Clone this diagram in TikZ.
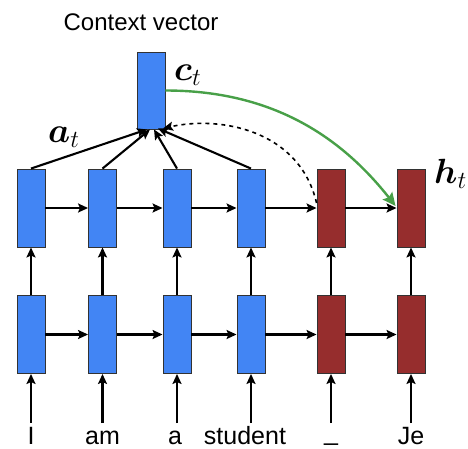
\documentclass[tikz,border=0pt]{standalone}
\usepackage{fix-cm}
\usepackage{amsmath,bm}
\usepackage{fontspec}
\setmainfont{Liberation Sans}
\usetikzlibrary{arrows.meta,calc}
\definecolor{encblue}{RGB}{66,133,244}
\definecolor{decred}{RGB}{150,45,45}
\definecolor{attgreen}{RGB}{72,160,72}
\definecolor{boxedge}{RGB}{50,50,50}
\tikzset{
  cell/.style={draw=boxedge, line width=0.9pt, minimum width=28pt, minimum height=78pt, inner sep=0pt},
  enc/.style={cell, fill=encblue},
  dec/.style={cell, fill=decred},
  arr/.style={draw=black, line width=2.1pt, -{Stealth[length=10pt,width=9pt,inset=2pt]}},
  word/.style={font=\fontsize{25}{28}\selectfont, anchor=base},
  mlabel/.style={font=\fontsize{35}{40}\selectfont, anchor=base west, inner sep=0pt},
}
\begin{document}
\begin{tikzpicture}[x=1pt,y=-1pt]
\useasboundingbox (0,0) rectangle (468,448);
\fill[white] (0,0) rectangle (468,448);

% title
\node[font=\fontsize{24}{28}\selectfont, anchor=base] (title) at (141,30) {Context vector};

% context vector
\node[enc, minimum height=77pt] (ctx) at (151,90.5) {};

% top row
\node[enc] (t1) at (31,208) {};
\node[enc] (t2) at (102.5,208) {};
\node[enc] (t3) at (177,208) {};
\node[enc] (t4) at (251,208) {};
\node[dec] (t5) at (331,208) {};
\node[dec] (t6) at (411,208) {};

% bottom row
\node[enc] (b1) at (31,334.5) {};
\node[enc] (b2) at (102.5,334.5) {};
\node[enc] (b3) at (177,334.5) {};
\node[enc] (b4) at (251,334.5) {};
\node[dec] (b5) at (331,334.5) {};
\node[dec] (b6) at (411,334.5) {};

% input coordinates
\coordinate (i1) at (31,423);
\coordinate (i2) at (102.5,423);
\coordinate (i3) at (177,423);
\coordinate (i4) at (251,423);
\coordinate (i5) at (331,423);
\coordinate (i6) at (411,423);

% words
\node[word] (w1) at (31,444) {I};
\node[word] (w2) at (102.5,444) {am};
\node[word] (w3) at (175,444) {a};
\node[word] (w4) at (245,444) {student};
\node[word] (w5) at (331,440) {\_};
\node[word] (w6) at (411,444) {Je};

% horizontal arrows
\foreach \r in {t,b}{
  \draw[arr] (\r1.east) -- (\r2.west);
  \draw[arr] (\r2.east) -- (\r3.west);
  \draw[arr] (\r3.east) -- (\r4.west);
  \draw[arr] (\r4.east) -- (\r5.west);
  \draw[arr] (\r5.east) -- (\r6.west);
}
% vertical arrows
\foreach \k in {1,...,6}{
  \draw[arr] (b\k.north) -- (t\k.south);
  \draw[arr] (i\k) -- (b\k.south);
}

% attention arrows
\draw[arr] (t1.north) -- ($(ctx.south)+(-4,0)$);
\draw[arr] (t2.north) -- ($(ctx.south)+(-1,0)$);
\draw[arr] (t3.north) -- ($(ctx.south)+(3,0)$);
\draw[arr] (t4.north) -- ($(ctx.south)+(7,-1)$);

% dashed feedback
\draw[arr, line width=1.6pt, dash pattern=on 4pt off 4pt]
  ($(t5.west)+(0,-5)$) .. controls ($(t5.west)+(-17,-78)$) and ($(ctx.south)+(69,-14)$) .. ($(ctx.south)+(12,-1)$);

% green attention to decoder
\draw[draw=attgreen, line width=2.4pt, -{Stealth[length=13pt,width=12pt,inset=2pt]}]
  ($(ctx.east)+(0,0)$) .. controls ($(ctx.east)+(105,0)$) and ($(t6.west)+(-57,-73)$) .. ($(t6.west)+(-1,-2)$);

% labels
\node[mlabel] (ct) at (174,80) {$\bm{c}_t$};
\node[mlabel] (at) at (48,142) {$\bm{a}_t$};
\node[mlabel] (ht) at (434,183) {$\bm{h}_t$};
\end{tikzpicture}
\end{document}
